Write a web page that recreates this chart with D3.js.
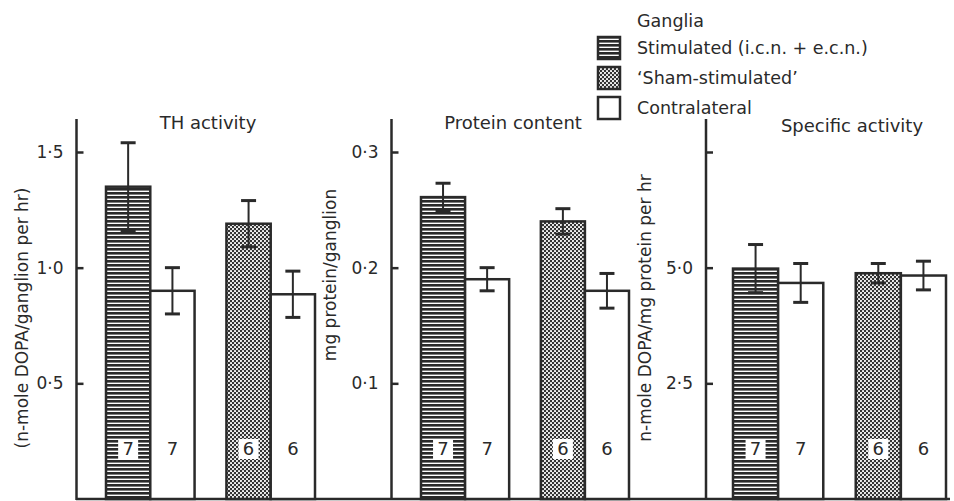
<!DOCTYPE html>
<html>
<head>
<meta charset="utf-8">
<script src="https://cdn.jsdelivr.net/npm/d3@7"></script>
<style>
  html, body { margin: 0; padding: 0; background: #ffffff; }
  svg { display: block; }
  text { font-family: "DejaVu Sans", "Liberation Sans", sans-serif; fill: #2a2a2a; }
</style>
</head>
<body>
<svg id="chart" width="954" height="501"></svg>
<script>
// ---------------- data ----------------
const conditions = ["Stimulated (i.c.n. + e.c.n.)", "Contralateral", "\u2018Sham-stimulated\u2019", "Contralateral"];
const groups = ["Stimulated", "Sham"];
const nValues = [7, 7, 6, 6];

const thActivity = [1.35, 0.90, 1.19, 0.885];
const thError = [0.19, 0.10, 0.10, 0.10];

const proteinContent = [0.261, 0.190, 0.240, 0.180];
const proteinError = [0.012, 0.010, 0.011, 0.015];

const specificActivity = [4.98, 4.67, 4.88, 4.83];
const specificError = [0.52, 0.42, 0.21, 0.31];

const panelTitles = ["TH activity", "Protein content", "Specific activity"];
const yLabels = ["(n-mole DOPA/ganglion per hr)", "mg protein/ganglion", "n-mole DOPA/mg protein per hr"];
const yMax = [1.5, 0.3, 7.5];
const tickValues1 = [0.5, 1.0, 1.5];
const tickValues2 = [0.1, 0.2, 0.3];
const tickValues3 = [2.5, 5.0, 7.5];
const tickLabels1 = ["0\u00b75", "1\u00b70", "1\u00b75"];
const tickLabels2 = ["0\u00b71", "0\u00b72", "0\u00b73"];
const tickLabels3 = ["2\u00b75", "5\u00b70", ""];
const legendTitle = "Ganglia";
const legendItems = ["Stimulated (i.c.n. + e.c.n.)", "\u2018Sham-stimulated\u2019", "Contralateral"];

// ---------------- layout ----------------
const INK = "#2a2a2a";
const svg = d3.select("#chart");
const defs = svg.append("defs");

// horizontal line hatching (stimulated)
const pH = defs.append("pattern").attr("id", "hlines")
  .attr("patternUnits", "userSpaceOnUse").attr("width", 6).attr("height", 4);
pH.append("rect").attr("width", 6).attr("height", 4).attr("fill", "#ffffff");
pH.append("rect").attr("y", 0).attr("width", 6).attr("height", 2.6).attr("fill", INK);

// dotted cross-hatch (sham)
const pD = defs.append("pattern").attr("id", "dots")
  .attr("patternUnits", "userSpaceOnUse").attr("width", 4).attr("height", 4);
pD.append("rect").attr("width", 4).attr("height", 4).attr("fill", "#333333");
pD.append("circle").attr("cx", 1).attr("cy", 1).attr("r", 1.05).attr("fill", "#ffffff");
pD.append("circle").attr("cx", 3).attr("cy", 3).attr("r", 1.05).attr("fill", "#ffffff");

const fills = ["url(#hlines)", "#ffffff", "url(#dots)", "#ffffff"];

const panels = [
  { axisX: 76.5, range: [106, 315], values: thActivity, errors: thError, ticks: tickValues1, tickLabels: tickLabels1,
    title: panelTitles[0], titleX: 208, titleY: 129, yLabel: yLabels[0], yLabelX: 28, yLabelY: 318, yMax: yMax[0] },
  { axisX: 391.5, range: [421, 629], values: proteinContent, errors: proteinError, ticks: tickValues2, tickLabels: tickLabels2,
    title: panelTitles[1], titleX: 513, titleY: 129, yLabel: yLabels[1], yLabelX: 336, yLabelY: 275, yMax: yMax[1] },
  { axisX: 706, range: [733, 946], values: specificActivity, errors: specificError, ticks: tickValues3, tickLabels: tickLabels3,
    title: panelTitles[2], titleX: 852, titleY: 132, yLabel: yLabels[2], yLabelX: 651, yLabelY: 308, yMax: yMax[2] }
];

const y0 = 499, yTop = 152, axisTop = 119;

// baseline across the figure
svg.append("line").attr("x1", 76).attr("x2", 950).attr("y1", y0).attr("y2", y0)
  .attr("stroke", INK).attr("stroke-width", 2.5);

panels.forEach(p => {
  const g = svg.append("g");
  const y = d3.scaleLinear().domain([0, p.yMax]).range([y0, yTop]);
  const xOuter = d3.scaleBand().domain(groups).range(p.range).paddingInner(0.2645).paddingOuter(0);
  const xInner = d3.scaleBand().domain([0, 1]).range([0, xOuter.bandwidth()]).padding(0);
  const barX = i => xOuter(groups[Math.floor(i / 2)]) + xInner(i % 2);
  const bw = xInner.bandwidth();

  // axis (ticks pointing inward)
  const axis = d3.axisRight(y).tickValues(p.ticks).tickSize(7).tickFormat("");
  const ax = g.append("g").attr("transform", `translate(${p.axisX},0)`).call(axis);
  ax.select(".domain").remove();
  ax.selectAll(".tick line").attr("stroke", INK).attr("stroke-width", 2.5);
  g.append("line").attr("x1", p.axisX).attr("x2", p.axisX).attr("y1", axisTop).attr("y2", y0 + 1)
    .attr("stroke", INK).attr("stroke-width", 2.5);
  g.selectAll(".tlab").data(p.ticks).enter().append("text")
    .attr("x", p.axisX - 13).attr("y", d => y(d)).attr("dy", "0.36em")
    .attr("text-anchor", "end").attr("font-size", 17)
    .text((d, i) => p.tickLabels[i]);

  // title
  g.append("text").attr("x", p.titleX).attr("y", p.titleY).attr("text-anchor", "middle")
    .attr("font-size", 18).text(p.title);

  // y label
  g.append("text").attr("transform", `translate(${p.yLabelX},${p.yLabelY}) rotate(-90)`)
    .attr("text-anchor", "middle").attr("font-size", 17).text(p.yLabel);

  // bars
  g.selectAll(".bar").data(p.values).enter().append("rect")
    .attr("x", (d, i) => barX(i)).attr("width", bw)
    .attr("y", d => y(d)).attr("height", d => y0 - y(d))
    .attr("fill", (d, i) => fills[i]).attr("stroke", INK).attr("stroke-width", 2.5);

  // error bars
  const eb = g.selectAll(".eb").data(p.values).enter().append("g");
  eb.append("line").attr("x1", (d, i) => barX(i) + bw / 2).attr("x2", (d, i) => barX(i) + bw / 2)
    .attr("y1", (d, i) => y(d + p.errors[i])).attr("y2", (d, i) => y(d - p.errors[i]))
    .attr("stroke", INK).attr("stroke-width", 2);
  [1, -1].forEach(s => {
    eb.append("line").attr("x1", (d, i) => barX(i) + bw / 2 - 7.5).attr("x2", (d, i) => barX(i) + bw / 2 + 7.5)
      .attr("y1", (d, i) => y(d + s * p.errors[i])).attr("y2", (d, i) => y(d + s * p.errors[i]))
      .attr("stroke", INK).attr("stroke-width", 3);
  });

  // n labels
  nValues.forEach((n, i) => {
    const cx = barX(i) + bw / 2;
    if (i % 2 === 0) {
      g.append("rect").attr("x", cx - 10).attr("y", 439).attr("width", 20).attr("height", 20).attr("fill", "#ffffff");
    }
    g.append("text").attr("x", cx).attr("y", 449).attr("dy", "0.36em").attr("text-anchor", "middle")
      .attr("font-size", 18).text(n);
  });
});

// legend
const lg = svg.append("g");
lg.append("text").attr("x", 637).attr("y", 27).attr("font-size", 17.5).text(legendTitle);
const legFills = [fills[0], fills[2], "#ffffff"];
const legY = d3.scalePoint().domain(legendItems).range([48, 108]);
legendItems.forEach((t, i) => {
  const cy = legY(t);
  lg.append("rect").attr("x", 598).attr("y", cy - 11).attr("width", 22).attr("height", 22)
    .attr("fill", legFills[i]).attr("stroke", INK).attr("stroke-width", 2.5);
  lg.append("text").attr("x", 637).attr("y", cy).attr("dy", "0.36em").attr("font-size", 17.5).text(t);
});
</script>
</body>
</html>
